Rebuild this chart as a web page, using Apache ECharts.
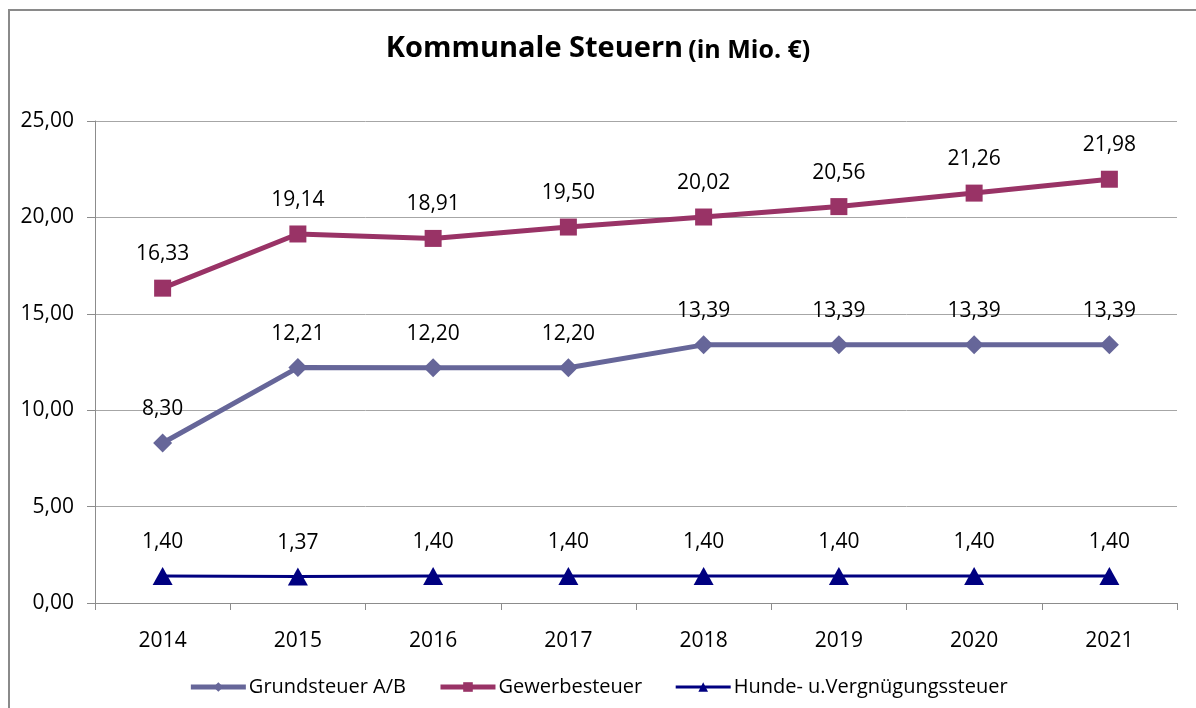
<!DOCTYPE html>
<html>
<head>
<meta charset="utf-8">
<script src="https://cdn.jsdelivr.net/npm/echarts@6/dist/echarts.min.js"></script>
<style>
html,body{margin:0;padding:0;background:#fff;}
#frame{position:absolute;left:8px;top:9px;width:1200px;height:720px;border-left:2px solid #8a8a8a;border-top:2px solid #8a8a8a;}
#c{position:absolute;left:0;top:0;width:1196px;height:708px;}
</style>
</head>
<body>
<div id="frame"></div>
<div id="c"></div>
<script>
const years = ['2014','2015','2016','2017','2018','2019','2020','2021'];
const grundsteuer = [8.30, 12.21, 12.20, 12.20, 13.39, 13.39, 13.39, 13.39];
const gewerbesteuer = [16.33, 19.14, 18.91, 19.50, 20.02, 20.56, 21.26, 21.98];
const hundesteuer = [1.40, 1.37, 1.40, 1.40, 1.40, 1.40, 1.40, 1.40];
const seriesNames = ['Grundsteuer A/B', 'Gewerbesteuer', 'Hunde- u.Vergnügungssteuer'];

const FONT = 'Open Sans';
const fmt = v => v.toFixed(2).replace('.', ',');

function labelCfg() {
  return {
    show: true,
    position: 'inside',
    offset: [0, -34],
    color: '#000',
    fontFamily: FONT,
    fontSize: 21,
    formatter: p => fmt(p.value)
  };
}

const chart = echarts.init(document.getElementById('c'), null, {renderer: 'canvas'});
chart.setOption({
  backgroundColor: 'transparent',
  animation: false,
  title: {
    text: '{a|Kommunale Steuern} {b|(in Mio. €)}',
    left: 'center',
    top: 20,
    textStyle: {
      rich: {
        a: {fontFamily: FONT, fontWeight: 'bold', fontSize: 29, color: '#000', verticalAlign: 'bottom', lineHeight: 38},
        b: {fontFamily: FONT, fontWeight: 'bold', fontSize: 25, color: '#000', verticalAlign: 'bottom', lineHeight: 38}
      }
    }
  },
  legend: {
    bottom: 6,
    left: 'center',
    itemWidth: 55,
    itemHeight: 12,
    itemGap: 32,
    textStyle: {fontFamily: FONT, fontSize: 20, color: '#000', padding: [0, 0, 0, -2]},
    data: [
      {name: seriesNames[0], lineStyle: {width: 5}},
      {name: seriesNames[1], lineStyle: {width: 5}},
      {name: seriesNames[2], lineStyle: {width: 3}}
    ]
  },
  grid: {left: 95, right: 19, top: 121, bottom: 105},
  xAxis: {
    type: 'category',
    data: years,
    boundaryGap: true,
    axisLine: {lineStyle: {color: '#8c8c8c', width: 1}},
    axisTick: {show: true, length: 7, lineStyle: {color: '#8c8c8c'}},
    axisLabel: {color: '#000', fontFamily: FONT, fontSize: 21, margin: 28}
  },
  yAxis: {
    type: 'value',
    min: 0,
    max: 25,
    interval: 5,
    axisLine: {show: true, lineStyle: {color: '#8c8c8c', width: 1}},
    axisTick: {show: true, length: 8, lineStyle: {color: '#8c8c8c'}},
    splitLine: {lineStyle: {color: '#a6a6a6', width: 1}},
    axisLabel: {color: '#000', fontFamily: FONT, fontSize: 21, margin: 21, formatter: v => fmt(v)}
  },
  series: [
    {
      name: seriesNames[0], type: 'line', data: grundsteuer,
      symbol: 'diamond', symbolSize: 19,
      lineStyle: {color: '#666699', width: 5},
      itemStyle: {color: '#666699'},
      label: labelCfg()
    },
    {
      name: seriesNames[1], type: 'line', data: gewerbesteuer,
      symbol: 'rect', symbolSize: 17,
      lineStyle: {color: '#993366', width: 5},
      itemStyle: {color: '#993366'},
      label: labelCfg()
    },
    {
      name: seriesNames[2], type: 'line', data: hundesteuer,
      symbol: 'triangle', symbolSize: [20, 18],
      lineStyle: {color: '#000080', width: 3},
      itemStyle: {color: '#000080'},
      label: labelCfg()
    }
  ]
});
</script>
</body>
</html>
